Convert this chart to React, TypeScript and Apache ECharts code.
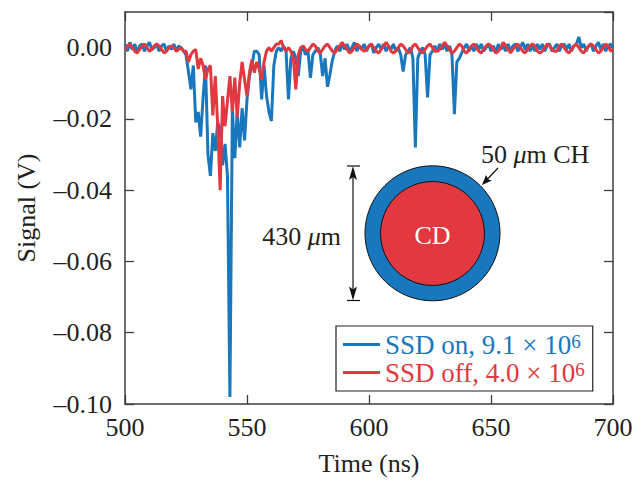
import React, { useEffect, useRef } from "react";
import * as echarts from "echarts";

// time axis (ns), 1 ns sampling
const T_START = 500;
// signals in mV, one sample per ns from 500 ns to 700 ns
const BLUE_MV = [
  1, -1, 1.5, -0.5, 1, -1.5, 0.5, 1, -1, 0.5,
  1.5, -0.5, 0, 1, -1, 0.5, 1, -1, 0.5, -0.5,
  1, -1, 0.5, 0, -1, -2, -6.7, -11.7, -5, -21,
  -18, -25, -14, -5, -30, -36, -24, -29, -21, -23,
  -33, -27, -36, -98, -17, -31, -18, -28, -17, -26,
  -14.5, -8, -5, -1, -1, -2, -14.5, -5, -13.5, -18,
  -20.6, -5, -1, 0, -1, 0.5, -1, -14.5, -3, -1,
  -3, -8, -1, 0, -2, -1, -8.5, -2, -1, 0,
  -1.5, -8, -3, -11, -7.5, -3.5, -1, 0.5, -1, 1,
  -0.5, 1, -1, 0, 1.5, -1, 0.5, -0.5, 1, -1,
  0.5, 1, -1.5, 0, 1, -0.5, 1, -1, 0.5, -0.5,
  1, -1, 0, -2, -6.7, -2, -1, 0, -3, -28,
  -3, -1, 0, -2, -14, -2, -1, 0.5, -1, 1,
  -0.5, 1, -1, 0.5, -2, -18.7, -4, -3, -1.5, 0,
  1, -1, 0.5, -1, 1, -0.5, 1, -1, 0, 1,
  -1, 0.5, -1.5, 1, -0.5, 0.5, -1, 1, -1, 0.5,
  1, -1, 0, 1.5, -0.5, 1, -1, 0.5, -1, 1,
  -0.5, 1, -1, 0.5, 1, -1, 0, 1, -1, 0.5,
  1, -0.5, 1, -1, 0.5, 1, 3, 0, 1, -1,
  0.5, 1, -1, 0.5, 1.5, -0.5, 1, -1, 0.5, 1,
  0,
];
const RED_MV = [
  -0.5, 0.5, 1, 0, -1, -1.5, -0.5, 0.5, 1, 0,
  -1, -0.5, 0.5, 1, 0.5, -0.5, -1.5, -1, 0, 0.5,
  0, -1, -0.5, 0, -1, -1, -4, -2, -1, -0.5,
  -6, -3, -5, -9, -6, -5, -19, -8, -22, -40,
  -13.6, -22, -15, -8, -18, -8.4, -19.6, -10, -4, -9,
  -13.6, -7, -3.4, -7, -4, -6, -9, -4, -1, 0,
  -1, 0, 1, 1, 2, 0, -1, 0, -1, -3,
  -11.7, -2, 0, 0.5, -0.5, -1, 0, 1, 0.5, -1,
  -1.5, -0.5, 0.5, 1, 0, -1, -1.5, -0.5, 0.5, 1.5,
  0.5, -0.5, -1.5, -1, 0, 1, 0.5, -0.5, -1, -0.5,
  0.5, 1, 0, -1, -1.5, -0.5, 0.5, 1.5, 0.5, -1,
  -1.5, -1, 0, 1, 0.5, -0.5, -1.5, -1, 0.5, 1,
  0, -1, -1.5, -0.5, 0.5, 1, 0, -1, -1, -0.5,
  0.5, 1.5, 0.5, -0.5, -1.5, -1, 0, 1, 0.5, -1,
  -1.5, -0.5, 0.5, 1, 0, -1, -1.5, -0.5, 0.5, 1,
  0.5, -0.5, -1.5, -1, 0, 1.5, 0.5, -0.5, -1.5, -0.5,
  0.5, 1, 0, -1, -1.5, -0.5, 0.5, 1, 0.5, -1,
  -1.5, -1, 0, 1, 0.5, -0.5, -1, -1, 0.5, 1,
  0, -1, -1.5, -0.5, 0.5, 1, 0, -1, -1.5, -0.5,
  0.5, 1, 0.5, -0.5, -1.5, -1, 0, 1, 0.5, -1,
  -0.5,
];
const SERIES_NAMES = ["SSD on", "SSD off"];
const LEGEND_MAIN = ["SSD on, 9.1 × 10", "SSD off, 4.0 × 10"];
const LEGEND_SUP = ["6", "6"];
const X_MIN = 500, X_MAX = 700, X_STEP = 50;
const Y_MIN = -0.1, Y_MAX = 0.01, Y_STEP = 0.02;

const BLUE = "#1877bd";
const RED = "#e2383f";
const INK = "#231f20";
const FRAME = "#3c3c3c";
const FONT = "'Liberation Serif', 'Times New Roman', serif";

function toSeries(arr: number[]) {
  return arr.map((v, i) => [T_START + i, v / 1000]);
}

export default function App() {
  const ref = useRef<HTMLDivElement>(null);
  useEffect(() => {
    if (!ref.current) return;
    const chart = echarts.init(ref.current, undefined, { renderer: "svg" });
    const tickStyle = { show: true, inside: true, length: 9, lineStyle: { color: FRAME, width: 1.3 } };
    const lineStyle = { show: true, onZero: false, lineStyle: { color: FRAME, width: 1.5 } };
    const yFmt = (v: number) => {
      if (v > 0.005) return "";
      if (Math.abs(v) < 1e-6) return "0.00";
      return "\u2013" + Math.abs(v).toFixed(2);
    };
    chart.setOption({
      animation: false,
      backgroundColor: "#ffffff",
      grid: { left: 125, right: 23, top: 12, bottom: 75 },
      xAxis: [
        {
          type: "value", min: X_MIN, max: X_MAX, interval: X_STEP, position: "bottom",
          axisLine: lineStyle, axisTick: tickStyle, splitLine: { show: false },
          axisLabel: { color: INK, fontFamily: FONT, fontSize: 26, margin: 10 },
          name: "Time (ns)", nameLocation: "middle", nameGap: 46,
          nameTextStyle: { color: INK, fontFamily: FONT, fontSize: 26 },
        },
        {
          type: "value", min: X_MIN, max: X_MAX, interval: X_STEP, position: "top",
          axisLine: lineStyle, axisTick: tickStyle, splitLine: { show: false },
          axisLabel: { show: false },
        },
      ],
      yAxis: [
        {
          type: "value", min: Y_MIN, max: Y_MAX, interval: Y_STEP, position: "left",
          axisLine: lineStyle, axisTick: tickStyle, splitLine: { show: false },
          axisLabel: { color: INK, fontFamily: FONT, fontSize: 26, margin: 13, formatter: yFmt, showMaxLabel: false },
          name: "Signal (V)", nameLocation: "middle", nameGap: 86,
          nameTextStyle: { color: INK, fontFamily: FONT, fontSize: 26 },
        },
        {
          type: "value", min: Y_MIN, max: Y_MAX, interval: Y_STEP, position: "right",
          axisLine: lineStyle, axisTick: tickStyle, splitLine: { show: false },
          axisLabel: { show: false },
        },
      ],
      legend: {
        left: 336, top: 326, orient: "vertical",
        padding: [5, 8, 5, 7], itemGap: 1, itemWidth: 37, itemHeight: 3, icon: "rect",
        borderColor: INK, borderWidth: 1.2, borderRadius: 0, backgroundColor: "#ffffff",
        data: SERIES_NAMES,
        formatter: (n: string) =>
          n === SERIES_NAMES[0]
            ? `{b|${LEGEND_MAIN[0]}}{bs|${LEGEND_SUP[0]}}`
            : `{r|${LEGEND_MAIN[1]}}{rs|${LEGEND_SUP[1]}}`,
        textStyle: {
          fontFamily: FONT, fontSize: 27,
          rich: {
            b: { color: BLUE, fontFamily: FONT, fontSize: 27, lineHeight: 26 },
            bs: { color: BLUE, fontFamily: FONT, fontSize: 19, lineHeight: 16, verticalAlign: "top" },
            r: { color: RED, fontFamily: FONT, fontSize: 27, lineHeight: 26 },
            rs: { color: RED, fontFamily: FONT, fontSize: 19, lineHeight: 16, verticalAlign: "top" },
          },
        },
      },
      series: [
        {
          name: SERIES_NAMES[0], type: "line", data: toSeries(BLUE_MV), showSymbol: false, symbol: "none",
          color: BLUE, lineStyle: { color: BLUE, width: 3 }, xAxisIndex: 0, yAxisIndex: 0, z: 2,
        },
        {
          name: SERIES_NAMES[1], type: "line", data: toSeries(RED_MV), showSymbol: false, symbol: "none",
          color: RED, lineStyle: { color: RED, width: 3 }, xAxisIndex: 0, yAxisIndex: 0, z: 3,
        },
      ],
      graphic: [
        { type: "circle", shape: { cx: 432.5, cy: 233.3, r: 67.5 }, style: { fill: BLUE, stroke: "#111", lineWidth: 1 }, z: 10 },
        { type: "circle", shape: { cx: 432.5, cy: 233.5, r: 52 }, style: { fill: RED, stroke: "#111", lineWidth: 1 }, z: 11 },
        {
          type: "text", z: 12,
          style: { text: "CD", x: 432.5, y: 235, fill: "#ffffff", fontFamily: FONT, fontSize: 26, align: "center", verticalAlign: "middle", textAlign: "center", textVerticalAlign: "middle" },
        },
        // diameter arrow
        { type: "line", shape: { x1: 353, y1: 170, x2: 353, y2: 296 }, style: { stroke: "#111", lineWidth: 1.2 }, z: 12 },
        { type: "line", shape: { x1: 347, y1: 166, x2: 360, y2: 166 }, style: { stroke: "#111", lineWidth: 1.2 }, z: 12 },
        { type: "line", shape: { x1: 347, y1: 300.5, x2: 360, y2: 300.5 }, style: { stroke: "#111", lineWidth: 1.2 }, z: 12 },
        { type: "polygon", shape: { points: [[353, 166], [349, 180], [353, 177], [357, 180]] }, style: { fill: "#111" }, z: 12 },
        { type: "polygon", shape: { points: [[353, 300.5], [349, 286.5], [353, 289.5], [357, 286.5]] }, style: { fill: "#111" }, z: 12 },
        {
          type: "text", z: 12,
          style: {
            text: "{a|430 }{i|\u03bc}{a|m}", x: 341, y: 236, align: "right", verticalAlign: "middle", textAlign: "right", textVerticalAlign: "middle",
            rich: {
              a: { fontFamily: FONT, fontSize: 26, fill: INK, color: INK },
              i: { fontFamily: FONT, fontSize: 26, fontStyle: "italic", fill: INK, color: INK },
            },
          },
        },
        // CH label and arrow
        {
          type: "text", z: 12,
          style: {
            text: "{a|50 }{i|\u03bc}{a|m CH}", x: 481, y: 154, align: "left", verticalAlign: "middle", textAlign: "left", textVerticalAlign: "middle",
            rich: {
              a: { fontFamily: FONT, fontSize: 26, fill: INK, color: INK },
              i: { fontFamily: FONT, fontSize: 26, fontStyle: "italic", fill: INK, color: INK },
            },
          },
        },
        { type: "line", shape: { x1: 498, y1: 168, x2: 487, y2: 179.5 }, style: { stroke: "#111", lineWidth: 1.2 }, z: 12 },
        { type: "polygon", shape: { points: [[482, 185], [491.8, 180.4], [488.5, 179.5], [486, 175]] }, style: { fill: "#111" }, z: 12 },
      ],
    });
    return () => chart.dispose();
  }, []);
  return <div ref={ref} style={{ width: 636, height: 481, position: "absolute", left: 0, top: 0 }} />;
}
